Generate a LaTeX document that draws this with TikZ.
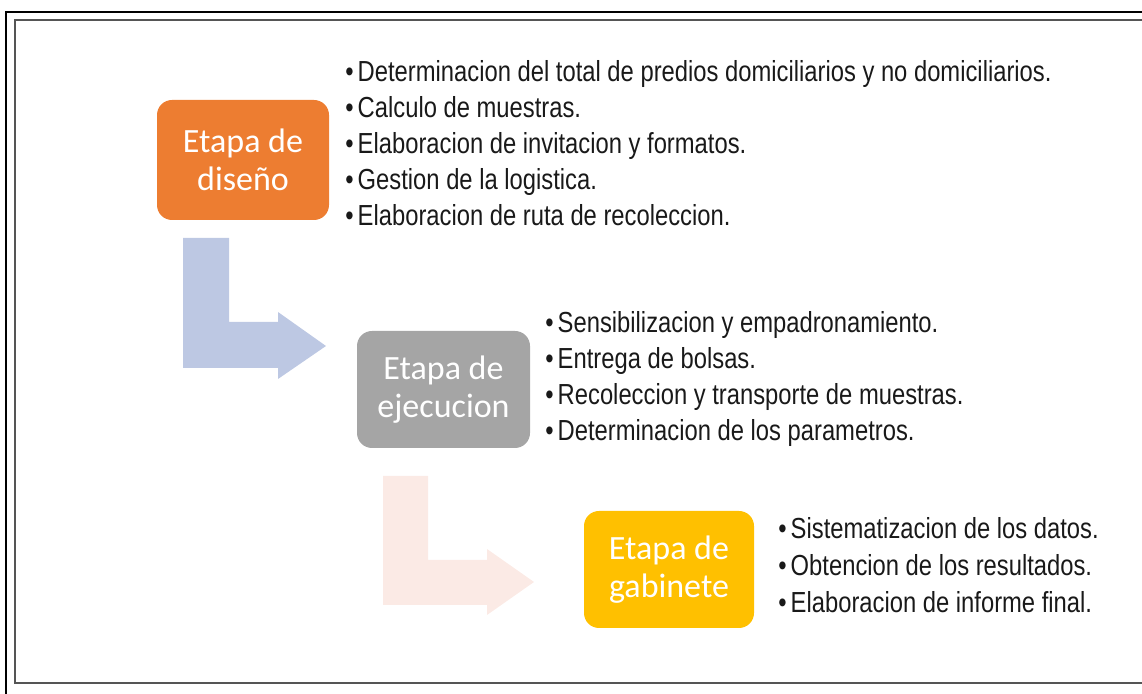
\documentclass[tikz,border=0pt]{standalone}
\usepackage{fontspec}
\setmainfont[FakeStretch=0.82]{Liberation Sans}
\newfontfamily\etapafont{Carlito}
\definecolor{disenoC}{HTML}{ED7D31}
\definecolor{ejecC}{HTML}{A5A5A5}
\definecolor{gabC}{HTML}{FFC000}
\definecolor{flechaA}{HTML}{BDC8E3}
\definecolor{flechaB}{HTML}{FBEAE5}
\definecolor{marcoC}{HTML}{555555}
\begin{document}
\begin{tikzpicture}[x=0.5pt,y=-0.5pt,
    etapa/.style={rounded corners=7.5pt,inner sep=0pt,align=center,text=white,
        font=\etapafont\fontsize{17}{19}\selectfont},
    item/.style={anchor=base west,inner sep=0pt,text=black!90,
        font=\fontsize{14.5}{16}\selectfont}]
            \useasboundingbox (0,0) rectangle (1142,694);
            \draw[line width=1pt] (6,694) -- (6,12) -- (1142,12);
            \draw[line width=0.9pt,marcoC] (1142,20) -- (15,20) -- (15,683) -- (1142,683);
            \fill[flechaA] (183,238) -- (229,238) -- (229,322) -- (278,322) -- (278,312) -- (326,346)
                -- (278,379) -- (278,368) -- (183,368) -- cycle;
            \fill[flechaB] (383,476) -- (428,476) -- (428,560) -- (487,560) -- (487,549) -- (534,582)
                -- (487,615) -- (487,605) -- (383,605) -- cycle;
            \node[etapa,fill=disenoC,minimum width=86pt,minimum height=60pt] (diseno) at (243,160) {Etapa de\\diseño};
            \node[etapa,fill=ejecC,minimum width=86.5pt,minimum height=58.5pt] (ejecucion) at (443.5,389.5) {Etapa de\\ejecucion};
            \node[etapa,fill=gabC,minimum width=85pt,minimum height=58.5pt] (gabinete) at (669,569.5) {Etapa de\\gabinete};
            \foreach \t [count=\i] in {Determinacion del total de predios domiciliarios y no domiciliarios.,
                    Calculo de muestras.,Elaboracion de invitacion y formatos.,Gestion de la logistica.,
                    Elaboracion de ruta de recoleccion.}
                \node[item] (dis\i) at (345,46+36*\i) {\textbullet\hspace{2pt}\t};
            \foreach \t [count=\i] in {Sensibilizacion y empadronamiento.,Entrega de bolsas.,
                    Recoleccion y transporte de muestras.,Determinacion de los parametros.}
                \node[item] (eje\i) at (545,297.3+35.7*\i) {\textbullet\hspace{2pt}\t};
            \foreach \t [count=\i] in {Sistematizacion de los datos.,Obtencion de los resultados.,
                    Elaboracion de informe final.}
                \node[item] (gab\i) at (778,502+37*\i) {\textbullet\hspace{2pt}\t};
\end{tikzpicture}
\end{document}
